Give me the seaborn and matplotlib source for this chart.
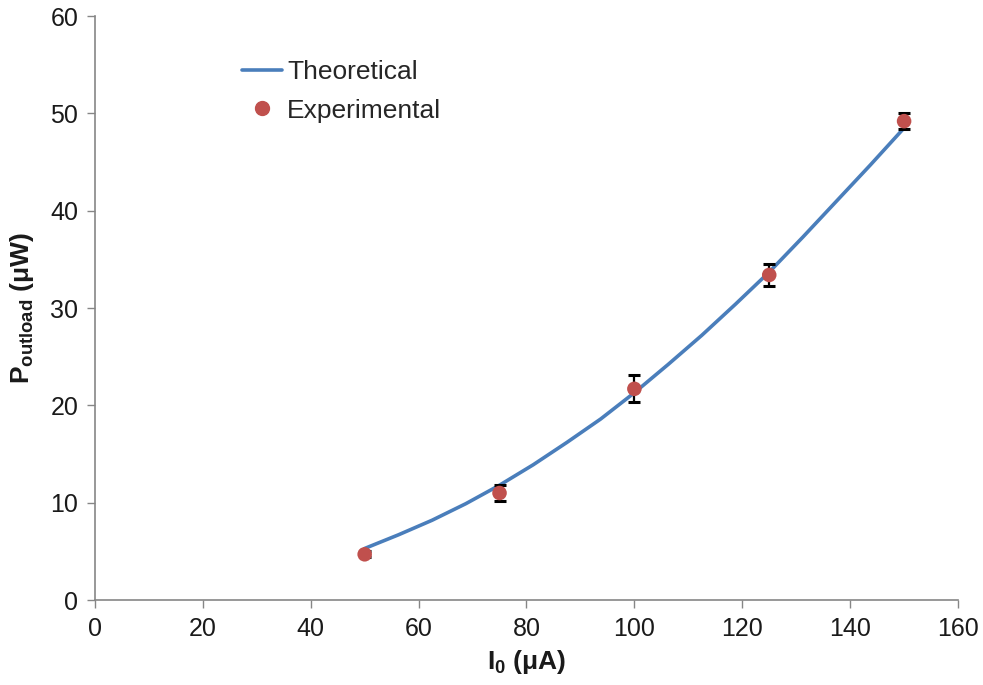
import matplotlib
matplotlib.use("Agg")
import matplotlib.pyplot as plt
import seaborn as sns
import pandas as pd
from matplotlib.lines import Line2D

# Theoretical output power curve (µW) vs. bias current I0 (µA)
theory_current = [50, 56.25, 62.5, 68.75, 75, 81.25, 87.5, 93.75, 100,
                  106.25, 112.5, 118.75, 125, 131.25, 137.5, 143.75, 150]
theory_power = [5.3, 6.7, 8.2, 9.9, 11.8, 13.9, 16.2, 18.6, 21.3,
                24.2, 27.2, 30.4, 33.7, 37.3, 41.0, 44.7, 48.5]

# Measured output power with error bars
exp_current = [50, 75, 100, 125, 150]
exp_power = [4.7, 11.0, 21.7, 33.4, 49.2]
exp_err = [0.3, 0.8, 1.4, 1.1, 0.8]

x_ticks = [0, 20, 40, 60, 80, 100, 120, 140, 160]
y_ticks = [0, 10, 20, 30, 40, 50, 60]

sns.set_theme(style="white")
plt.rcParams["font.family"] = ["Liberation Sans", "DejaVu Sans"]
plt.rcParams["mathtext.fontset"] = "custom"
plt.rcParams["mathtext.rm"] = "Liberation Sans"
plt.rcParams["mathtext.bf"] = "Liberation Sans:bold"
plt.rcParams["mathtext.it"] = "Liberation Sans:italic"

line_color = "#4A7EBB"
dot_color = "#C0504D"
axis_grey = "#868686"
text_color = "#1a1a1a"

fig, ax = plt.subplots(figsize=(9.83, 6.85), dpi=100)
fig.subplots_adjust(left=0.0966, right=0.9746, top=0.9766, bottom=0.124)

theory = pd.DataFrame({"I0": theory_current, "P": theory_power})
exp = pd.DataFrame({"I0": exp_current, "P": exp_power, "err": exp_err})

sns.lineplot(data=theory, x="I0", y="P", ax=ax, color=line_color, linewidth=2.6,
             zorder=2)
ax.errorbar(exp["I0"], exp["P"], yerr=exp["err"], fmt="none", ecolor="black",
            elinewidth=1.6, capsize=4, capthick=2.2, zorder=3)
sns.scatterplot(data=exp, x="I0", y="P", ax=ax, color=dot_color, s=110,
                edgecolor="none", zorder=4)

ax.set_xlim(0, 160)
ax.set_ylim(0, 60)
ax.set_xticks(x_ticks)
ax.set_yticks(y_ticks)
ax.tick_params(axis="both", labelsize=18, colors=text_color, length=6,
               width=1, direction="out", left=True, bottom=True, pad=6)
ax.tick_params(axis="both", color=axis_grey)

for side in ["top", "right"]:
    ax.spines[side].set_visible(False)
for side in ["left", "bottom"]:
    ax.spines[side].set_color(axis_grey)
    ax.spines[side].set_linewidth(1.2)

ax.set_xlabel(r"$\mathbf{I_0\ (μA)}$", fontsize=19, color=text_color, labelpad=5)
ax.set_ylabel(r"$\mathbf{P_{outload}\ (μW)}$", fontsize=19, color=text_color,
              labelpad=10)

handles = [
    Line2D([], [], color=line_color, linewidth=2.6),
    Line2D([], [], color=dot_color, marker="o", linestyle="none", markersize=10),
]
ax.legend(handles, ["Theoretical", "Experimental"], loc="upper left",
          bbox_to_anchor=(0.143, 0.965), frameon=False, fontsize=19,
          handlelength=1.5, handletextpad=0.2, labelspacing=0.55)

fig.savefig("out.png", dpi=100)
